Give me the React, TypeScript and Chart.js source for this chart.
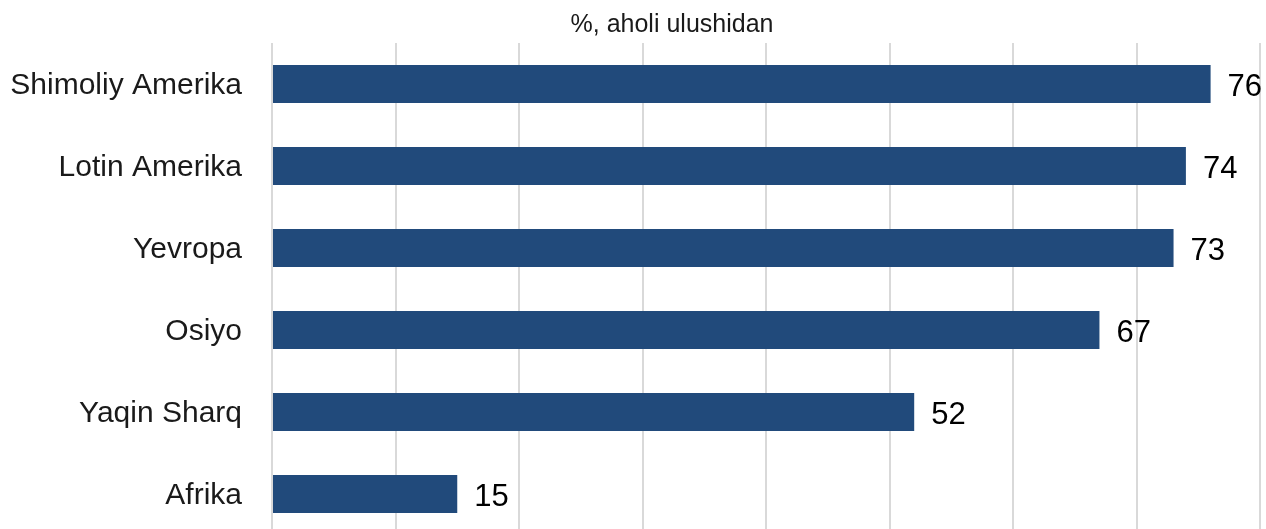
import React, { useEffect, useRef } from "react";
import { Chart, registerables } from "chart.js";

Chart.register(...registerables);

const categories = ["Shimoliy Amerika", "Lotin Amerika", "Yevropa", "Osiyo", "Yaqin Sharq", "Afrika"];
const values = [76, 74, 73, 67, 52, 15];
const titleText = "%, aholi ulushidan";
const axisMin = 0;
const axisMax = 80;
const axisStep = 10;

const FONT = "'Liberation Sans', Arial, sans-serif";

const valueLabels = {
  id: "valueLabels",
  afterDatasetsDraw(chart: any) {
    const ctx = chart.ctx;
    const meta = chart.getDatasetMeta(0);
    ctx.save();
    ctx.font = `31px ${FONT}`;
    ctx.fillStyle = "#000000";
    ctx.textAlign = "left";
    ctx.textBaseline = "middle";
    meta.data.forEach((bar: any, i: number) => {
      ctx.fillText(String(values[i]), bar.x + 17, bar.y + 3);
    });
    ctx.restore();
  },
};

const topTitle = {
  id: "topTitle",
  afterDraw(chart: any) {
    const ctx = chart.ctx;
    ctx.save();
    ctx.font = `25px ${FONT}`;
    ctx.fillStyle = "#1a1a1a";
    ctx.textAlign = "center";
    ctx.textBaseline = "middle";
    ctx.fillText(titleText, 672, 25);
    ctx.restore();
  },
};

export default function App() {
  const ref = useRef<HTMLCanvasElement | null>(null);
  useEffect(() => {
    if (!ref.current) return;
    const chart = new Chart(ref.current, {
      type: "bar",
      data: {
        labels: categories,
        datasets: [
          {
            data: values,
            backgroundColor: "#214a7b",
            borderWidth: 0,
            categoryPercentage: 1,
            barPercentage: 0.463,
          },
        ],
      },
      options: {
        indexAxis: "y",
        animation: false,
        responsive: false,
        layout: { padding: { left: 0, right: 6, top: 43, bottom: 0 } },
        plugins: {
          legend: { display: false },
          tooltip: { enabled: false },
          title: { display: false },
        },
        scales: {
          x: {
            min: axisMin,
            max: axisMax,
            ticks: { display: false, stepSize: axisStep },
            grid: { color: "#d9d9d9", lineWidth: 2, drawTicks: false },
            border: { display: false },
            afterFit: (s: any) => {
              s.height = 0;
              s.paddingLeft = 0;
              s.paddingRight = 0;
            },
          },
          y: {
            ticks: {
              color: "#1a1a1a",
              font: { family: FONT, size: 30 },
              padding: 30,
              labelOffset: 2,
            },
            grid: { display: false, drawTicks: false },
            border: { display: false },
            afterFit: (s: any) => {
              s.width = 272;
              s.paddingTop = 0;
              s.paddingBottom = 0;
            },
          },
        },
      },
      plugins: [valueLabels, topTitle],
    });
    return () => chart.destroy();
  }, []);
  return (
    <div style={{ position: "fixed", left: 0, top: 0, width: 1266, height: 529, overflow: "hidden", background: "#fff" }}>
      <canvas ref={ref} width={1266} height={535} style={{ display: "block", width: 1266, height: 535 }} />
    </div>
  );
}
